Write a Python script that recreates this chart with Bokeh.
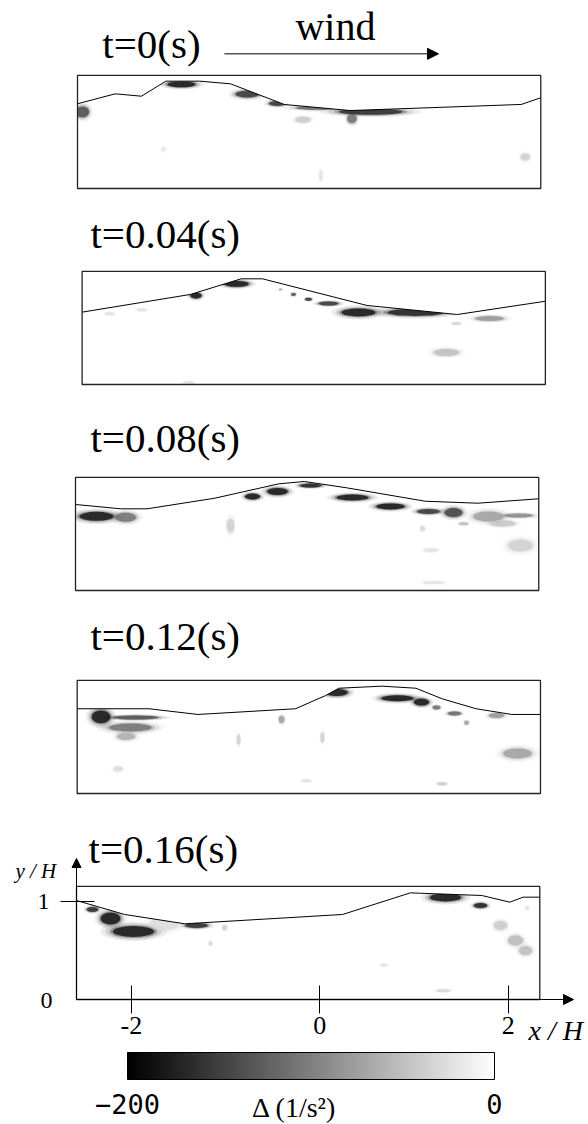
from bokeh.plotting import figure
from bokeh.layouts import column
from bokeh.models import (Range1d, Label, Arrow, NormalHead, LinearAxis, FixedTicker,
                          ColorBar, LinearColorMapper, ColumnDataSource)
from bokeh.palettes import Greys256
from bokeh.embed import file_html
from bokeh.resources import INLINE

# ======================= DATA (x/H, y/H, Delta in 1/s^2) =======================
TIMES = ["0", "0.04", "0.08", "0.12", "0.16"]

# free-surface profiles
SURF_T0_X = [-2.583, -2.183, -1.904, -1.645, -1.286, -0.959, -0.388, 0.311, 2.127, 2.335]
SURF_T0_Y = [0.862, 0.963, 0.939, 1.092, 1.092, 1.065, 0.855, 0.793, 0.855, 0.923]
SURF_T1_X = [-2.583, -1.434, -0.895, -0.668, 0.441, 1.400, 2.335]
SURF_T1_Y = [0.736, 0.916, 1.075, 1.075, 0.804, 0.712, 0.847]
SURF_T2_X = [-2.583, -2.102, -1.823, -1.104, -0.426, -0.154, 0.293, 1.130, 1.689, 2.335]
SURF_T2_Y = [0.875, 0.831, 0.831, 0.939, 1.085, 1.109, 1.045, 0.908, 0.888, 0.933]
SURF_T3_X = [-2.583, -1.821, -1.302, -0.265, 0.055, 0.194, 0.654, 1.013, 1.292, 1.652, 2.031, 2.335]
SURF_T3_Y = [0.862, 0.862, 0.804, 0.862, 0.997, 1.071, 1.092, 1.071, 0.963, 0.862, 0.804, 0.804]
SURF_T4_X = [-2.583, -2.072, -1.434, 0.242, 0.961, 1.719, 2.018, 2.158, 2.335]
SURF_T4_Y = [1.007, 0.865, 0.770, 0.865, 1.085, 1.058, 0.990, 1.041, 1.041]

# Delta regions: centre x, centre y, extent x, extent y, Delta value
REG_T0_X = [-2.53, -1.48, -0.78, -0.46, -0.04, 0.53, 0.33, -0.19, 2.17, 0.00, -1.67]
REG_T0_Y = [0.78, 1.06, 0.96, 0.865, 0.82, 0.78, 0.71, 0.70, 0.32, 0.13, 0.40]
REG_T0_W = [0.14, 0.30, 0.25, 0.18, 0.44, 0.68, 0.10, 0.16, 0.10, 0.04, 0.05]
REG_T0_H = [0.11, 0.06, 0.07, 0.05, 0.04, 0.06, 0.09, 0.06, 0.07, 0.10, 0.05]
REG_T0_D = [-150, -200, -170, -170, -130, -180, -120, -45, -40, -25, -20]

REG_T1_X = [-1.374, -0.944, -0.339, -0.180, -0.477, 0.033, 0.351, 0.956, 1.742, 1.39, 1.285, -2.29, -1.95, -1.45]
REG_T1_Y = [0.905, 1.024, 0.916, 0.868, 0.966, 0.824, 0.733, 0.733, 0.671, 0.62, 0.326, 0.72, 0.76, 0.02]
REG_T1_W = [0.12, 0.26, 0.05, 0.07, 0.03, 0.21, 0.36, 0.60, 0.30, 0.10, 0.26, 0.10, 0.10, 0.12]
REG_T1_H = [0.06, 0.06, 0.03, 0.03, 0.02, 0.04, 0.08, 0.07, 0.05, 0.03, 0.07, 0.03, 0.03, 0.03]
REG_T1_D = [-200, -200, -150, -170, -80, -170, -200, -190, -90, -35, -55, -25, -25, -25]

REG_T2_X = [-2.36, -2.05, -0.704, -0.439, -0.088, 0.357, 0.761, 1.164, 1.430, 1.801, 2.120, 1.950, 2.141, 1.536, -0.938, 1.10, 1.19, 1.22]
REG_T2_Y = [0.755, 0.745, 0.956, 1.007, 1.068, 0.946, 0.855, 0.804, 0.793, 0.753, 0.763, 0.682, 0.458, 0.68, 0.66, 0.63, 0.41, 0.08]
REG_T2_W = [0.36, 0.22, 0.16, 0.22, 0.23, 0.34, 0.30, 0.24, 0.19, 0.32, 0.30, 0.26, 0.26, 0.10, 0.08, 0.05, 0.15, 0.22]
REG_T2_H = [0.09, 0.09, 0.06, 0.07, 0.04, 0.06, 0.06, 0.05, 0.09, 0.10, 0.04, 0.06, 0.12, 0.03, 0.14, 0.05, 0.04, 0.03]
REG_T2_D = [-200, -120, -200, -200, -190, -200, -200, -170, -160, -80, -100, -50, -40, -55, -40, -35, -25, -25]

REG_T3_X = [0.170, 0.817, 1.072, 1.231, 1.422, 1.55, 1.868, -2.33, -1.964, -2.017, -2.064, -0.414, -0.87, 0.02, 2.091, -2.15, 1.29, -0.15]
REG_T3_Y = [1.027, 0.969, 0.929, 0.875, 0.814, 0.72, 0.793, 0.78, 0.773, 0.671, 0.58, 0.753, 0.55, 0.57, 0.407, 0.25, 0.10, 0.13]
REG_T3_W = [0.24, 0.34, 0.16, 0.08, 0.14, 0.05, 0.16, 0.20, 0.48, 0.45, 0.19, 0.06, 0.04, 0.04, 0.30, 0.10, 0.10, 0.10]
REG_T3_H = [0.07, 0.06, 0.07, 0.04, 0.04, 0.04, 0.05, 0.13, 0.04, 0.08, 0.07, 0.07, 0.10, 0.10, 0.10, 0.05, 0.03, 0.03]
REG_T3_D = [-200, -200, -200, -120, -130, -80, -90, -200, -150, -120, -70, -80, -40, -40, -80, -30, -45, -25]

REG_T4_X = [-2.413, -2.222, -1.978, -1.309, -1.65, -1.01, 1.334, 1.706, 1.918, 2.077, 2.184, 2.20, 1.31, 0.68, -1.16]
REG_T4_Y = [0.916, 0.824, 0.692, 0.753, 0.77, 0.73, 1.038, 0.956, 0.753, 0.600, 0.498, 0.93, 0.09, 0.35, 0.57]
REG_T4_W = [0.12, 0.21, 0.44, 0.24, 0.30, 0.05, 0.33, 0.14, 0.14, 0.16, 0.14, 0.04, 0.14, 0.07, 0.04]
REG_T4_H = [0.05, 0.12, 0.11, 0.05, 0.13, 0.05, 0.08, 0.05, 0.09, 0.10, 0.09, 0.04, 0.03, 0.03, 0.04]
REG_T4_D = [-180, -200, -200, -180, -30, -40, -200, -190, -45, -60, -55, -25, -35, -25, -35]

X_TICKS = [-2, 0, 2]
X_TICK_LABELS = {-2: "-2", 0: "0", 2: "2"}
Y_TICKS = [1]
DELTA_LOW, DELTA_HIGH = -200, 0

SURF_X = [SURF_T0_X, SURF_T1_X, SURF_T2_X, SURF_T3_X, SURF_T4_X]
SURF_Y = [SURF_T0_Y, SURF_T1_Y, SURF_T2_Y, SURF_T3_Y, SURF_T4_Y]
REG_X = [REG_T0_X, REG_T1_X, REG_T2_X, REG_T3_X, REG_T4_X]
REG_Y = [REG_T0_Y, REG_T1_Y, REG_T2_Y, REG_T3_Y, REG_T4_Y]
REG_W = [REG_T0_W, REG_T1_W, REG_T2_W, REG_T3_W, REG_T4_W]
REG_H = [REG_T0_H, REG_T1_H, REG_T2_H, REG_T3_H, REG_T4_H]
REG_D = [REG_T0_D, REG_T1_D, REG_T2_D, REG_T3_D, REG_T4_D]

# ======================= LAYOUT / STYLE =======================
X0, X1, YTOP = -2.583, 2.335, 1.15       # measurement window (x/H, y/H)
PX_PER_X, PX_PER_Y = 94.2, 98.3
FIG_W = 586
FIG_TOP = [0, 200, 400, 605, 815]
FIG_H = [200, 200, 205, 210, 309]
PANEL_L = [77, 81.6, 75, 76.7, 76]
PANEL_B = [188, 384, 590, 793, 999]
TITLE_POS = [(-2.32, 1.465), (-2.494, 1.526), (-2.424, 1.556), (-2.442, 1.607), (-2.455, 1.526)]
BLUR = [(1.6, 1.8, 0.07), (1.35, 1.5, 0.12), (1.15, 1.22, 0.28), (1.0, 1.0, 0.72)]
SERIF = "Liberation Serif"

mapper = LinearColorMapper(palette=Greys256, low=DELTA_LOW, high=DELTA_HIGH)


def make_panel(k):
    L, B, top, h = PANEL_L[k], PANEL_B[k], FIG_TOP[k], FIG_H[k]
    xr = Range1d(X0 + (0 - L) / PX_PER_X, X0 + (FIG_W - L) / PX_PER_X)
    yr = Range1d((B - (top + h)) / PX_PER_Y, (B - top) / PX_PER_Y)
    p = figure(width=FIG_W, height=h, x_range=xr, y_range=yr, output_backend="svg",
               toolbar_location=None, tools="", x_axis_location=None, y_axis_location=None,
               min_border=0)
    p.title.visible = False
    p.grid.visible = False
    p.outline_line_color = None
    p.background_fill_color = "white"
    p.border_fill_color = "white"

    for sw, sh, a in BLUR:
        src = ColumnDataSource(dict(x=REG_X[k], y=REG_Y[k],
                                    w=[v * sw for v in REG_W[k]],
                                    h=[v * sh for v in REG_H[k]], d=REG_D[k]))
        p.ellipse(x="x", y="y", width="w", height="h", source=src,
                  fill_color={"field": "d", "transform": mapper}, fill_alpha=a,
                  line_color=None)
    # air above the free surface
    p.varea(x=SURF_X[k], y1=SURF_Y[k], y2=[YTOP] * len(SURF_X[k]), fill_color="white")
    # outside the measurement window
    p.quad(left=[xr.start, X1, X0, X0], right=[X0, xr.end, X1, X1],
           bottom=[yr.start, yr.start, yr.start, YTOP], top=[yr.end, yr.end, 0, yr.end],
           fill_color="white", line_color=None)
    p.line(SURF_X[k], SURF_Y[k], line_color="black", line_width=1)
    p.quad(left=[X0], right=[X1], bottom=[0], top=[YTOP], fill_color=None,
           line_color="#222222", line_width=1.3)

    tx, ty = TITLE_POS[k]
    p.add_layout(Label(x=tx, y=ty, text="t=%s(s)" % TIMES[k], text_font=SERIF,
                       text_font_size="41px", text_color="black",
                       text_baseline="alphabetic", text_align="left"))
    return p


figs = [make_panel(k) for k in range(5)]

# wind arrow
p1 = figs[0]
p1.add_layout(Label(x=-0.269, y=1.648, text="wind", text_font=SERIF, text_font_size="40px",
                    text_color="black", text_baseline="alphabetic", text_align="left"))
p1.add_layout(Arrow(x_start=-1.023, y_start=1.370, x_end=1.249, y_end=1.370,
                    line_color="black", line_width=1,
                    end=NormalHead(size=11, fill_color="black", line_color="black")))

# axes on the last panel
p5 = figs[4]
xax = LinearAxis(fixed_location=0, bounds=(X0, X1), ticker=FixedTicker(ticks=X_TICKS),
                 major_label_overrides=X_TICK_LABELS,
                 major_tick_in=14, major_tick_out=14, major_label_standoff=3,
                 major_label_text_font=SERIF, major_label_text_font_size="26px",
                 major_label_text_color="black", axis_line_color="black",
                 major_tick_line_color="black", minor_tick_line_color=None)
p5.add_layout(xax, "below")
yax = LinearAxis(fixed_location=X0, bounds=(0, YTOP), ticker=FixedTicker(ticks=Y_TICKS),
                 major_tick_in=18, major_tick_out=16, major_label_standoff=11,
                 major_label_text_font=SERIF, major_label_text_font_size="24px",
                 major_label_text_color="black", axis_line_color="black",
                 major_tick_line_color="black", minor_tick_line_color=None)
p5.add_layout(yax, "left")
p5.add_layout(Arrow(x_start=X1, y_start=0, x_end=2.693, y_end=0, line_color="black",
                    line_width=1, end=NormalHead(size=10, fill_color="black", line_color="black")))
p5.add_layout(Arrow(x_start=X0, y_start=YTOP, x_end=X0, y_end=1.434, line_color="black",
                    line_width=1, end=NormalHead(size=9, fill_color="black", line_color="black")))
p5.add_layout(Label(x=-3.231, y=1.312, text="y / H", text_font=SERIF, text_font_size="21px",
                    text_font_style="italic", text_color="black", text_baseline="alphabetic"))
p5.add_layout(Label(x=-2.901, y=-0.01, text="0", text_font=SERIF, text_font_size="24px",
                    text_color="black", text_baseline="middle", text_align="center"))
p5.add_layout(Label(x=2.216, y=-0.315, text="x / H", text_font=SERIF, text_font_size="28px",
                    text_font_style="italic", text_color="black", text_baseline="alphabetic"))

cb = ColorBar(color_mapper=mapper, orientation="horizontal", width=367, height=27,
              location=(127, 8), padding=0, ticker=FixedTicker(ticks=[DELTA_LOW, DELTA_HIGH]),
              major_label_overrides={DELTA_LOW: "\u2212200", DELTA_HIGH: "0"},
              major_label_text_font="DejaVu Sans Mono", major_label_text_font_size="27px",
              major_label_text_color="black", major_tick_line_color=None,
              minor_tick_line_color=None, label_standoff=14, bar_line_color="black",
              bar_line_width=1, background_fill_alpha=0, border_line_color=None)
p5.add_layout(cb, "center")
p5.add_layout(Label(x=-0.269, y=-1.099, text="\u0394 (1/s\u00b2)", text_font=SERIF,
                    text_font_size="28px", text_color="black", text_baseline="alphabetic",
                    text_align="center"))

layout = column(*figs, spacing=0)
open("out.html", "w").write(file_html(layout, INLINE))
